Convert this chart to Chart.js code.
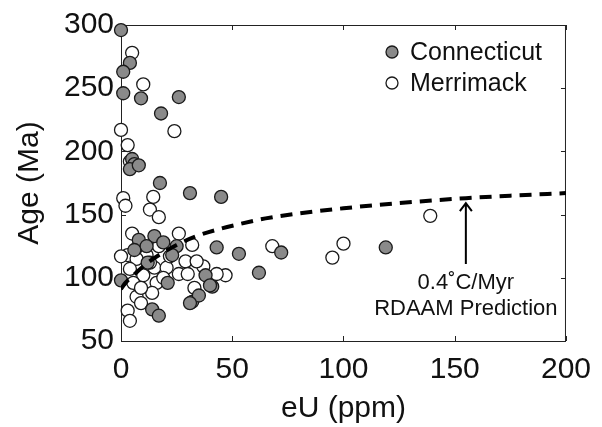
<!DOCTYPE html>
<html><head><meta charset="utf-8">
<script src="https://cdn.jsdelivr.net/npm/chart.js@4"></script>
<style>html,body{margin:0;padding:0;background:#fff;}canvas{display:block;}</style>
</head><body>
<canvas id="c" width="602" height="427"></canvas>
<script>
// ---- data ----
const connecticutEU  = [0, 4, 1, 1, 9, 26, 18, 5, 6, 4, 8, 17.5, 31, 45, 43, 53, 72, 62, 119, 41, 38, 15, 8, 11.5, 25, 0, 21, 40, 32, 35, 14, 17, 31, 6, 19, 23, 12];
const connecticutAge = [296, 270, 263, 246, 242, 243, 230, 194, 190, 186, 189, 175, 167, 164, 124, 119, 120, 104, 124, 93, 102, 133, 130, 125, 125, 98, 96, 94, 81, 86, 75, 70, 80, 122, 128, 118, 112];
const merrimackEU  = [5, 10, 0, 24, 3, 4, 1, 2, 14.5, 13, 17, 68, 95, 100, 139, 47, 43, 37, 5, 26, 17, 32, 3, 11.5, 7, 29, 34, 4, 15, 20.5, 26, 30, 10, 5.5, 16, 33, 7, 14, 3, 4, 9, 0, 22, 13, 9, 19];
const merrimackAge = [278, 253, 217, 216, 205, 192, 163, 157, 164, 154, 148, 125, 116, 127, 149, 102, 103, 109, 135, 135, 125, 126, 118, 118, 115, 113, 113, 107, 108, 108, 103, 103, 102, 96, 96, 92, 85, 88, 74, 66, 80, 117, 117, 112, 92, 100];
const predictionEU  = [0, 2, 5, 8, 12, 18, 25, 34, 43, 52, 65, 80, 100, 124, 155, 175, 200];
const predictionAge = [91, 96, 101, 106, 112, 119, 126, 133, 138, 142, 147, 151, 155, 159, 163, 165, 167];
const xTicks = [0, 50, 100, 150, 200];
const yTicks = [50, 100, 150, 200, 250, 300];
const seriesNames = ['Connecticut', 'Merrimack'];
const annotationLines = ['0.4\u02DAC/Myr', 'RDAAM Prediction'];
const arrowEU = 155, arrowFromAge = 111, arrowToAge = 159;

const toPts = (xs, ys) => xs.map((v, i) => ({x: v, y: ys[i]}));
const FONT = '"Liberation Sans", Arial, Helvetica, sans-serif';

const overlay = {
  id: 'overlay',
  beforeDatasetsDraw(chart) {
    const {ctx, chartArea: a, scales: {x, y}} = chart;
    ctx.save();
    ctx.strokeStyle = '#222';
    ctx.lineWidth = 1;
    ctx.strokeRect(a.left + 0.5, a.top + 0.5, a.right - a.left - 1, a.bottom - a.top);
    ctx.beginPath();
    xTicks.forEach(v => {
      const p = Math.round(x.getPixelForValue(v)) + 0.5;
      ctx.moveTo(p, a.bottom); ctx.lineTo(p, a.bottom - 5);
      ctx.moveTo(p, a.top); ctx.lineTo(p, a.top + 5);
    });
    yTicks.forEach(v => {
      const p = Math.round(y.getPixelForValue(v)) + 0.5;
      ctx.moveTo(a.left, p); ctx.lineTo(a.left + 5, p);
      ctx.moveTo(a.right, p); ctx.lineTo(a.right - 5, p);
    });
    ctx.stroke();
    ctx.restore();
  },
  afterDatasetsDraw(chart) {
    const {ctx, scales: {x, y}} = chart;
    const ds = chart.data.datasets;
    ctx.save();
    // legend
    const lx = 392, ly = [52, 83];
    ctx.font = '25px ' + FONT;
    ctx.textBaseline = 'middle';
    ctx.textAlign = 'left';
    [0, 1].forEach(i => {
      ctx.beginPath();
      ctx.arc(lx, ly[i], 6, 0, Math.PI * 2);
      ctx.fillStyle = ds[i + 1].backgroundColor;
      ctx.fill();
      ctx.lineWidth = 1.3;
      ctx.strokeStyle = ds[i + 1].borderColor;
      ctx.stroke();
      ctx.fillStyle = '#111';
      ctx.fillText(seriesNames[i], 410, ly[i] + 1);
    });
    // arrow
    const ax = x.getPixelForValue(arrowEU);
    const y0 = y.getPixelForValue(arrowFromAge), y1 = y.getPixelForValue(arrowToAge);
    ctx.strokeStyle = '#000';
    ctx.lineWidth = 2;
    ctx.beginPath();
    ctx.moveTo(ax, y0); ctx.lineTo(ax, y1 + 1);
    ctx.moveTo(ax - 6, y1 + 8); ctx.lineTo(ax, y1); ctx.lineTo(ax + 6, y1 + 8);
    ctx.stroke();
    // annotation text
    ctx.fillStyle = '#111';
    ctx.font = '22px ' + FONT;
    ctx.textAlign = 'center';
    ctx.fillText(annotationLines[0], ax, 283);
    ctx.fillText(annotationLines[1], ax, 309);
    ctx.restore();
  }
};

new Chart(document.getElementById('c'), {
  type: 'scatter',
  data: {
    datasets: [
      {
        type: 'line', label: 'RDAAM Prediction', data: toPts(predictionEU, predictionAge),
        borderColor: '#000', borderWidth: 4, borderDash: [12, 8], pointRadius: 0,
        fill: false, tension: 0.4, cubicInterpolationMode: 'monotone', order: 0
      },
      {
        label: seriesNames[0], data: toPts(connecticutEU, connecticutAge), clip: false,
        backgroundColor: '#8a8a8a', borderColor: '#1a1a1a', borderWidth: 1.3, pointRadius: 6.5, order: 1
      },
      {
        label: seriesNames[1], data: toPts(merrimackEU, merrimackAge), clip: false,
        backgroundColor: '#ffffff', borderColor: '#1a1a1a', borderWidth: 1.3, pointRadius: 6.5, order: 2
      }
    ]
  },
  options: {
    responsive: false,
    animation: false,
    events: [],
    layout: {padding: {top: 21, right: 35, left: 0, bottom: 0}},
    plugins: {legend: {display: false}, tooltip: {enabled: false}},
    scales: {
      x: {
        type: 'linear', min: 0, max: 200,
        afterBuildTicks: s => { s.ticks = xTicks.map(v => ({value: v})); },
        afterFit: s => { s.height = 86; },
        grid: {display: false, drawTicks: false},
        border: {display: false},
        ticks: {color: '#111', padding: 11, font: {family: FONT, size: 30}, maxRotation: 0},
        title: {display: true, text: 'eU (ppm)', color: '#111', font: {family: FONT, size: 30}, padding: {top: 9, bottom: 0}}
      },
      y: {
        type: 'linear', min: 50, max: 300,
        afterBuildTicks: s => { s.ticks = yTicks.map(v => ({value: v})); },
        afterFit: s => { s.width = 121; },
        grid: {display: false, drawTicks: false},
        border: {display: false},
        ticks: {color: '#111', padding: 7, font: {family: FONT, size: 30}},
        title: {display: true, text: 'Age (Ma)', color: '#111', font: {family: FONT, size: 30}, padding: {top: 12, bottom: 0}}
      }
    }
  },
  plugins: [overlay]
});
</script>
</body></html>
